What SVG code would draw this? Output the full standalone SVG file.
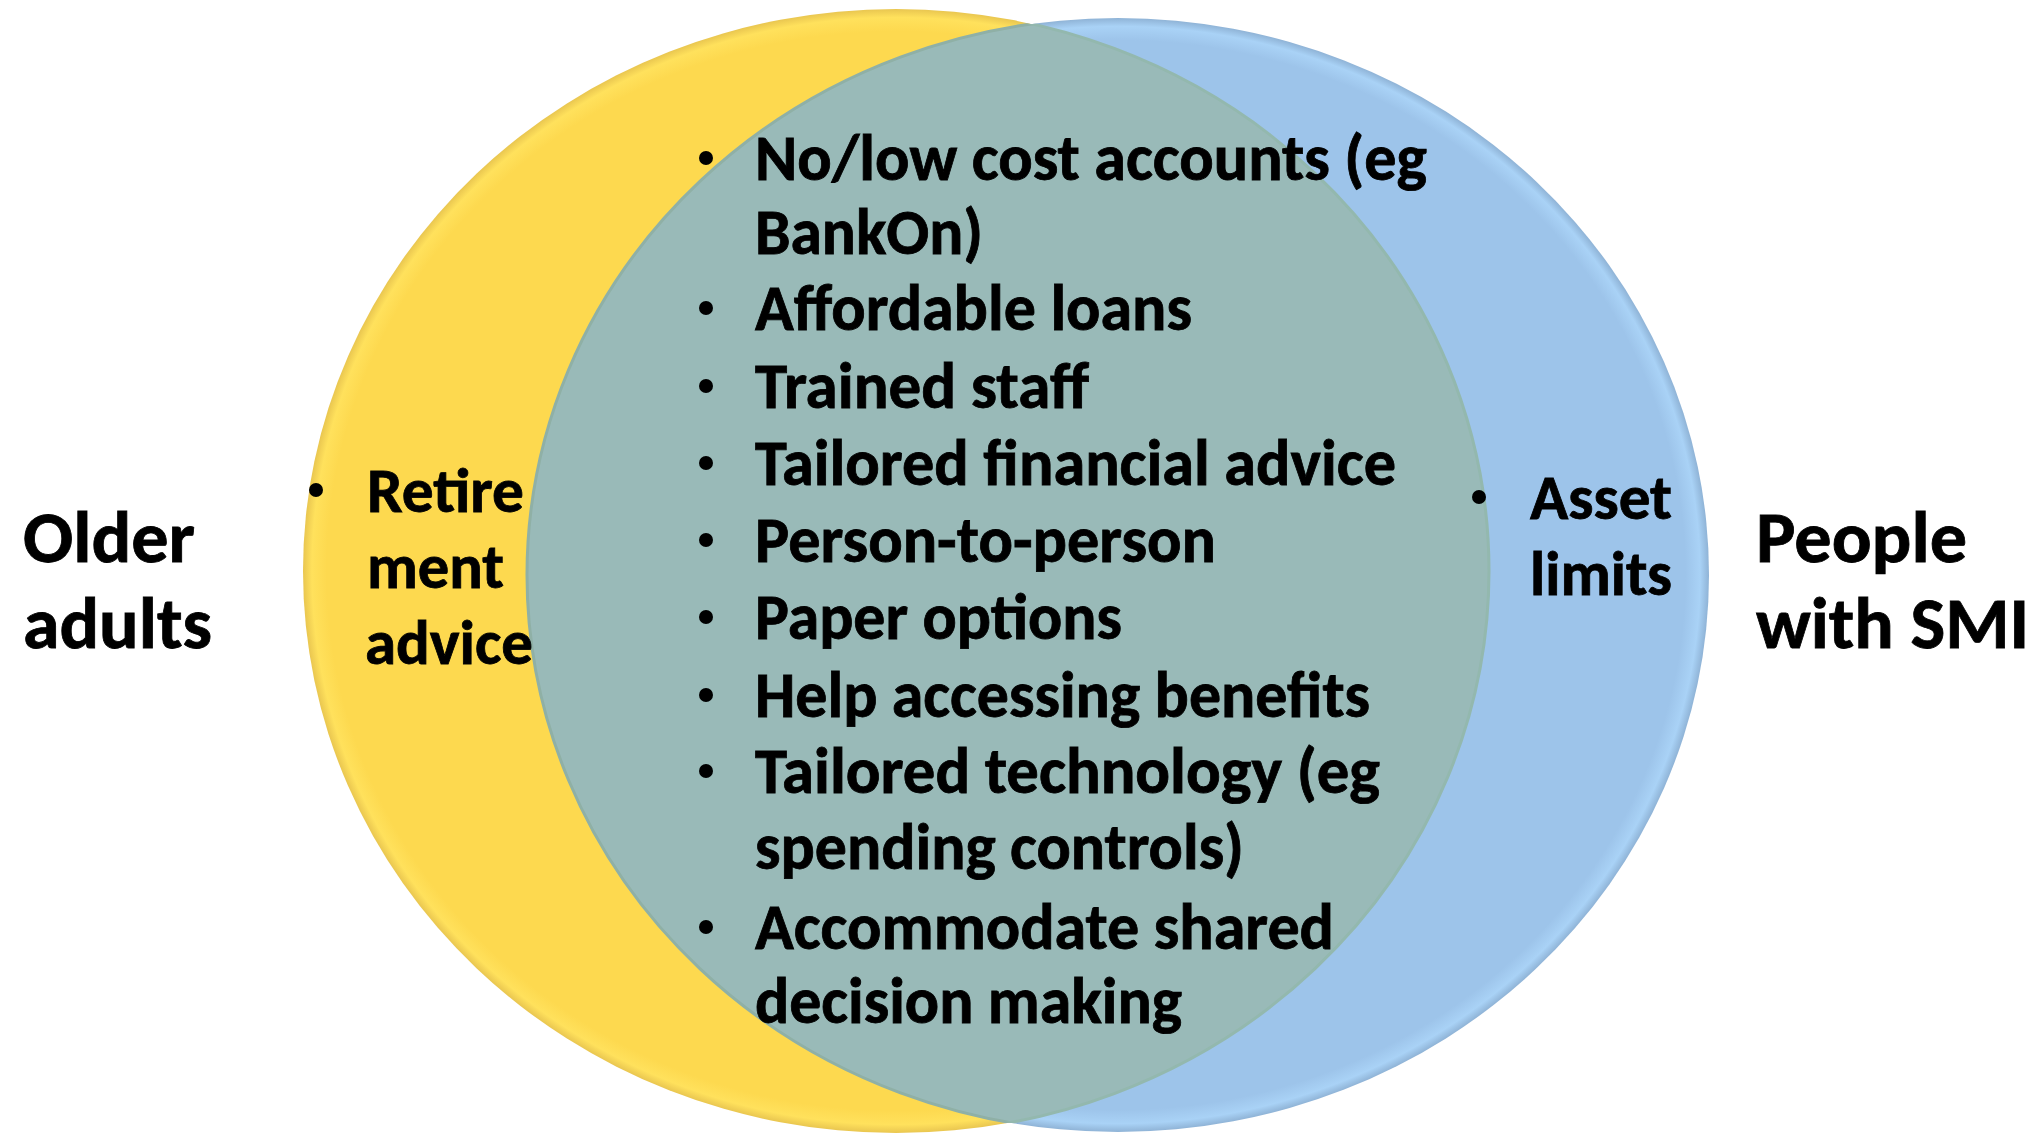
<svg xmlns="http://www.w3.org/2000/svg" width="2040" height="1135" viewBox="0 0 2040 1135">
<defs>
<clipPath id="clipY"><ellipse cx="896" cy="571" rx="593" ry="562"/></clipPath>
<clipPath id="clipB"><ellipse cx="1118" cy="575" rx="591" ry="557"/></clipPath>
<radialGradient id="gY" cx="0.5" cy="0.5" r="0.5">
<stop offset="0.96" stop-color="#FDD94F"/>
<stop offset="0.985" stop-color="#FFE15C"/>
<stop offset="1" stop-color="#E9C650"/>
</radialGradient>
<radialGradient id="gB" cx="0.5" cy="0.5" r="0.5">
<stop offset="0.96" stop-color="#9DC4EA"/>
<stop offset="0.985" stop-color="#A9D2F6"/>
<stop offset="1" stop-color="#8FB3D6"/>
</radialGradient>
<style>
.t{font-family:Carlito,Lato,"Liberation Sans",sans-serif;font-weight:700;fill:#000;stroke:#000;stroke-width:0.8px}
.m{font-size:64px}
.s{font-size:63px}
.h{font-size:72px}
.b{fill:#000}
</style>
</defs>
<rect width="2040" height="1135" fill="#FFFFFF"/>
<g id="circle-older-adults">
<ellipse cx="896" cy="571" rx="593" ry="562" fill="url(#gY)"/>
</g>
<g id="circle-people-smi">
<ellipse cx="1118" cy="575" rx="591" ry="557" fill="url(#gB)"/>
</g>
<g id="overlap">
<ellipse cx="1118" cy="575" rx="591" ry="557" fill="#99BAB8" stroke="#8FB0A6" stroke-width="3" clip-path="url(#clipY)"/>
<ellipse cx="896" cy="571" rx="593" ry="562" fill="none" stroke="#93B8AE" stroke-width="3" clip-path="url(#clipB)"/>
</g>
<g id="label-older-adults">
<text class="t h" x="23" y="562" textLength="172" lengthAdjust="spacingAndGlyphs">Older</text>
<text class="t h" x="23" y="648" textLength="189" lengthAdjust="spacingAndGlyphs">adults</text>
</g>
<g id="label-people-smi">
<text class="t h" x="1756" y="562" textLength="211" lengthAdjust="spacingAndGlyphs">People</text>
<text class="t h" x="1756" y="648" textLength="273" lengthAdjust="spacingAndGlyphs">with SMI</text>
</g>
<g id="list-older-adults">
<circle class="b" cx="316" cy="490" r="7"/>
<text class="t s" x="367" y="512" textLength="157" lengthAdjust="spacingAndGlyphs">Retire</text>
<text class="t s" x="367" y="588" textLength="137" lengthAdjust="spacingAndGlyphs">ment</text>
<text class="t s" x="365" y="664" textLength="168" lengthAdjust="spacingAndGlyphs">advice</text>
</g>
<g id="list-people-smi">
<circle class="b" cx="1479" cy="497" r="7"/>
<text class="t s" x="1530" y="519" textLength="142" lengthAdjust="spacingAndGlyphs">Asset</text>
<text class="t s" x="1530" y="595" textLength="142" lengthAdjust="spacingAndGlyphs">limits</text>
</g>
<g id="list-shared">
<circle class="b" cx="706" cy="158" r="7"/>
<text class="t m" x="755" y="180" textLength="672" lengthAdjust="spacingAndGlyphs">No/low cost accounts (eg</text>
<text class="t m" x="755" y="254" textLength="228" lengthAdjust="spacingAndGlyphs">BankOn)</text>
<circle class="b" cx="706" cy="308" r="7"/>
<text class="t m" x="755" y="330" textLength="437" lengthAdjust="spacingAndGlyphs">Affordable loans</text>
<circle class="b" cx="706" cy="386" r="7"/>
<text class="t m" x="755" y="408" textLength="334" lengthAdjust="spacingAndGlyphs">Trained staff</text>
<circle class="b" cx="706" cy="463" r="7"/>
<text class="t m" x="755" y="485" textLength="641" lengthAdjust="spacingAndGlyphs">Tailored financial advice</text>
<circle class="b" cx="706" cy="540" r="7"/>
<text class="t m" x="755" y="562" textLength="461" lengthAdjust="spacingAndGlyphs">Person-to-person</text>
<circle class="b" cx="706" cy="617" r="7"/>
<text class="t m" x="755" y="639" textLength="367" lengthAdjust="spacingAndGlyphs">Paper options</text>
<circle class="b" cx="706" cy="695" r="7"/>
<text class="t m" x="755" y="717" textLength="615" lengthAdjust="spacingAndGlyphs">Help accessing benefits</text>
<circle class="b" cx="706" cy="771" r="7"/>
<text class="t m" x="755" y="793" textLength="625" lengthAdjust="spacingAndGlyphs">Tailored technology (eg</text>
<text class="t m" x="755" y="869" textLength="489" lengthAdjust="spacingAndGlyphs">spending controls)</text>
<circle class="b" cx="706" cy="927" r="7"/>
<text class="t m" x="755" y="949" textLength="579" lengthAdjust="spacingAndGlyphs">Accommodate shared</text>
<text class="t m" x="755" y="1023" textLength="427" lengthAdjust="spacingAndGlyphs">decision making</text>
</g>
<g id="connectors"></g>
</svg>
